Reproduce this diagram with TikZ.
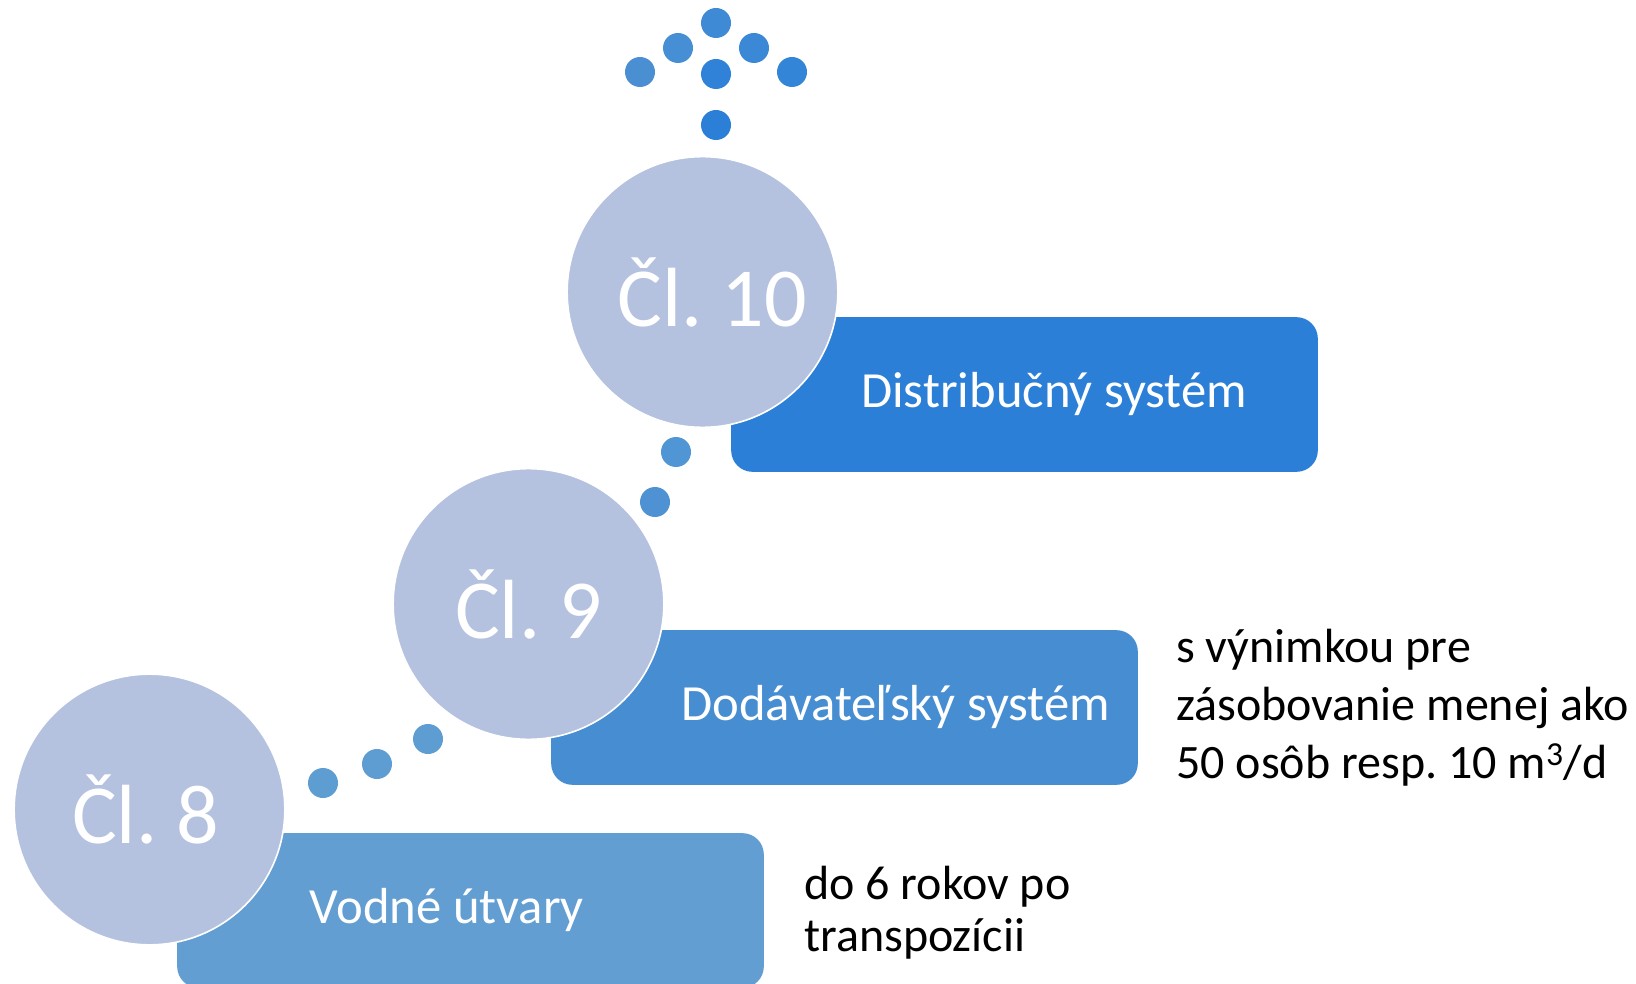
\documentclass[tikz,border=0pt]{standalone}
\usepackage{fontspec}
\setmainfont{Carlito}
\frenchspacing
\definecolor{circfill}{RGB}{180,194,224}
\definecolor{boxten}{RGB}{43,127,214}
\definecolor{boxnine}{RGB}{70,141,210}
\definecolor{boxeight}{RGB}{98,158,210}
\tikzstyle{article}=[circle, fill=circfill, draw=white, line width=1.2pt, minimum size=203pt, inner sep=0pt, text=white, font=\fontsize{63}{70}\selectfont]
\tikzstyle{articlebox}=[rectangle, rounded corners=16pt, minimum width=440pt, minimum height=116pt, inner sep=0pt]
\tikzstyle{boxlabel}=[anchor=base west, inner sep=0pt, text=white, font=\fontsize{38}{45}\selectfont]
\tikzstyle{note}=[anchor=base west, align=left, inner sep=0pt, font=\fontsize{36}{43.5}\selectfont]

\begin{document}
\begin{tikzpicture}[x=0.75pt, y=-0.75pt]
\useasboundingbox (0,0) rectangle (1636,984);
% Dots on top
    \fill[color={rgb,255:red,63;green,138;blue,213}] (716,23) circle(15);
    \fill[color={rgb,255:red,70;green,143;blue,212}] (678,48) circle(15);
    \fill[color={rgb,255:red,58;green,136;blue,214}] (754,48) circle(15);
    \fill[color={rgb,255:red,74;green,143;blue,210}] (640,72) circle(15);
    \fill[color={rgb,255:red,47;green,130;blue,215}] (716,74) circle(15);
    \fill[color={rgb,255:red,51;green,133;blue,215}] (792,72) circle(15);
    \fill[color={rgb,255:red,43;green,127;blue,214}] (716,125) circle(15);
% Dots between the articles
    \fill[color={rgb,255:red,81;green,150;blue,212}] (676,452) circle(15);
    \fill[color={rgb,255:red,78;green,146;blue,211}] (655,502) circle(15);
    \fill[color={rgb,255:red,94;green,157;blue,210}] (428,739) circle(15);
    \fill[color={rgb,255:red,94;green,157;blue,210}] (377,764) circle(15);
    \fill[color={rgb,255:red,94;green,157;blue,210}] (323,783) circle(15);
% Boxes
    \node[articlebox, fill=boxten] (b10) at (1024.5,394.5) {};
    \node[articlebox, fill=boxnine] (b9) at (844.5,707.5) {};
    \node[articlebox, fill=boxeight] (b8) at (470.5,910.5) {};
    \node[boxlabel] (l10) at ([xshift=97.5pt, yshift=-10pt]b10.west) {Distribučný systém};
    \node[boxlabel] (l9) at ([xshift=97.5pt, yshift=-10pt]b9.west) {Dodávateľský systém};
    \node[boxlabel] (l8) at ([xshift=99.5pt, yshift=-10pt]b8.west) {Vodné útvary};
% Articles
    \node[article] (c10) at (702.5,292) {\hspace*{15pt}Čl. 10};
    \node[article] (c9) at (528.5,604) {Čl. 9};
    \node[article] (c8) at (149.5,809.5) {Čl. 8\hspace*{6pt}};
% Notes
    \node[note] (n9) at (1176,778) {s výnimkou pre\\zásobovanie menej ako\\50 osôb resp. 10 m\textsuperscript{3}/d};
    \node[note, font=\fontsize{36}{39}\selectfont] (n8) at (804,951) {do 6 rokov po\\transpozícii};
\end{tikzpicture}
\end{document}
